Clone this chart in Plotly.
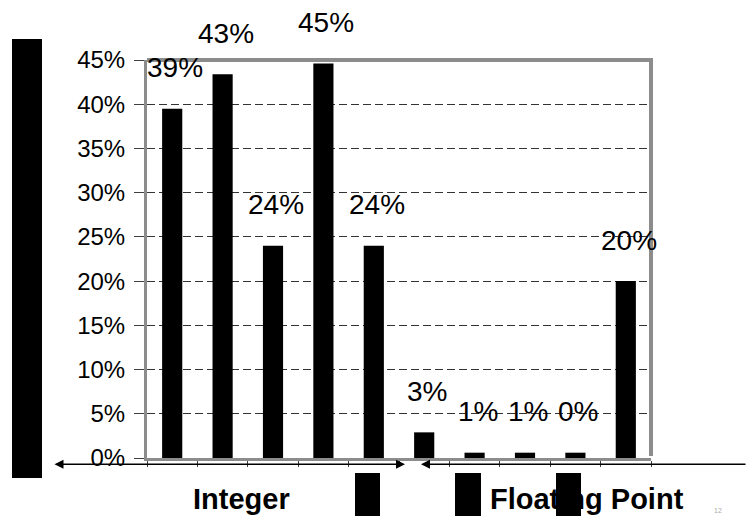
import plotly.graph_objects as go

# ---- data ----
categories = ["Int 1", "Int 2", "Int 3", "Int 4", "Int 5",
              "FP 1", "FP 2", "FP 3", "FP 4", "FP 5"]
values = [39.5, 43.4, 24.0, 44.6, 24.0, 2.9, 0.6, 0.6, 0.6, 20.0]
value_labels = ["39%", "43%", "24%", "45%", "24%", "3%", "1%", "1%", "0%", "20%"]
y_ticks = [0, 5, 10, 15, 20, 25, 30, 35, 40, 45]
y_tick_labels = ["0%", "5%", "10%", "15%", "20%", "25%", "30%", "35%", "40%", "45%"]
group_labels = ["Integer", "Floating Point"]

# ---- geometry helpers (pixel -> paper) ----
W, H = 747, 516
L, R, T, B = 147, 651, 60, 458
def xp(px):
    return (px - L) / (R - L)
def yp(py):
    return (B - py) / (B - T)

FONT = "Liberation Sans, Arial, sans-serif"
FRAME = "#8c8c8c"

fig = go.Figure()
fig.add_trace(go.Bar(
    x=categories, y=values, width=0.4,
    marker=dict(color="black", line=dict(width=0)),
    hoverinfo="skip",
))

annotations = []
for c, v, t in zip(categories, values, value_labels):
    annotations.append(dict(x=c, y=v, xref="x", yref="y", text=t, showarrow=False,
                            xshift=3, yshift=41, yanchor="middle",
                            font=dict(size=28, color="black", family=FONT)))

# group labels
annotations.append(dict(x=xp(241), y=yp(499), xref="paper", yref="paper",
                        text="<b>%s</b>" % group_labels[0], showarrow=False,
                        xanchor="center", yanchor="middle",
                        font=dict(size=29, color="black", family=FONT)))
annotations.append(dict(x=xp(587), y=yp(499), xref="paper", yref="paper",
                        text="<b>%s</b>" % group_labels[1], showarrow=False,
                        xanchor="center", yanchor="middle",
                        font=dict(size=29, color="black", family=FONT)))

# arrows
annotations.append(dict(x=xp(405), y=yp(464.3), xref="paper", yref="paper",
                        ax=53 - 405, ay=0, text="", showarrow=True,
                        arrowhead=2, startarrowhead=2, arrowside="end+start",
                        arrowsize=1.2, startarrowsize=1.2, arrowwidth=1.5,
                        arrowcolor="black", standoff=0, startstandoff=0))
annotations.append(dict(x=xp(421), y=yp(464.3), xref="paper", yref="paper",
                        ax=770 - 421, ay=0, text="", showarrow=True,
                        arrowhead=2, arrowside="end",
                        arrowsize=1.2, arrowwidth=1.5,
                        arrowcolor="black", standoff=0))

# tiny slide number at the bottom edge
annotations.append(dict(x=xp(724), y=yp(516), xref="paper", yref="paper",
                        text="12", showarrow=False, yanchor="bottom",
                        font=dict(size=7, color="#aaaaaa", family=FONT)))

shapes = [
    # top & right frame
    dict(type="line", xref="paper", yref="paper", x0=0, x1=xp(653), y0=1, y1=1,
         line=dict(color=FRAME, width=4)),
    dict(type="line", xref="paper", yref="paper", x0=1, x1=1, y0=yp(456), y1=yp(58),
         line=dict(color=FRAME, width=4)),
    # black blocks
    dict(type="rect", xref="paper", yref="paper", x0=xp(12), x1=xp(42), y0=yp(478), y1=yp(39),
         fillcolor="black", line=dict(width=0)),
    dict(type="rect", xref="paper", yref="paper", x0=xp(355), x1=xp(380), y0=yp(520), y1=yp(473),
         fillcolor="black", line=dict(width=0)),
    dict(type="rect", xref="paper", yref="paper", x0=xp(455), x1=xp(481), y0=yp(520), y1=yp(473),
         fillcolor="black", line=dict(width=0)),
    dict(type="rect", xref="paper", yref="paper", x0=xp(556), x1=xp(581), y0=yp(520), y1=yp(473),
         fillcolor="black", line=dict(width=0)),
]

fig.update_layout(
    width=W, height=H,
    margin=dict(l=L, r=W - R, t=T, b=H - B, pad=0),
    paper_bgcolor="white", plot_bgcolor="white",
    showlegend=False,
    bargap=0.6,
    font=dict(family=FONT, color="black"),
    xaxis=dict(type="category", range=[-0.5, 9.5], showticklabels=False,
               ticks="outside", tickson="boundaries", ticklen=6, tickwidth=1,
               tickcolor="#404040", showline=True, linecolor=FRAME, linewidth=3,
               showgrid=False, zeroline=False, fixedrange=True),
    yaxis=dict(range=[0, 45], tickvals=y_ticks, ticktext=y_tick_labels,
               ticks="outside", ticklen=10, tickwidth=1, tickcolor="#404040",
               tickfont=dict(size=24, color="black", family=FONT),
               ticklabelstandoff=4,
               showgrid=True, gridcolor="#333333", gridwidth=1, griddash="8px,4px",
               showline=True, linecolor=FRAME, linewidth=3, zeroline=False,
               fixedrange=True),
    annotations=annotations,
    shapes=shapes,
)

fig.write_html("out.html", config={"displayModeBar": False},
               post_script="document.body.style.margin='0';document.body.style.overflow='hidden';")
